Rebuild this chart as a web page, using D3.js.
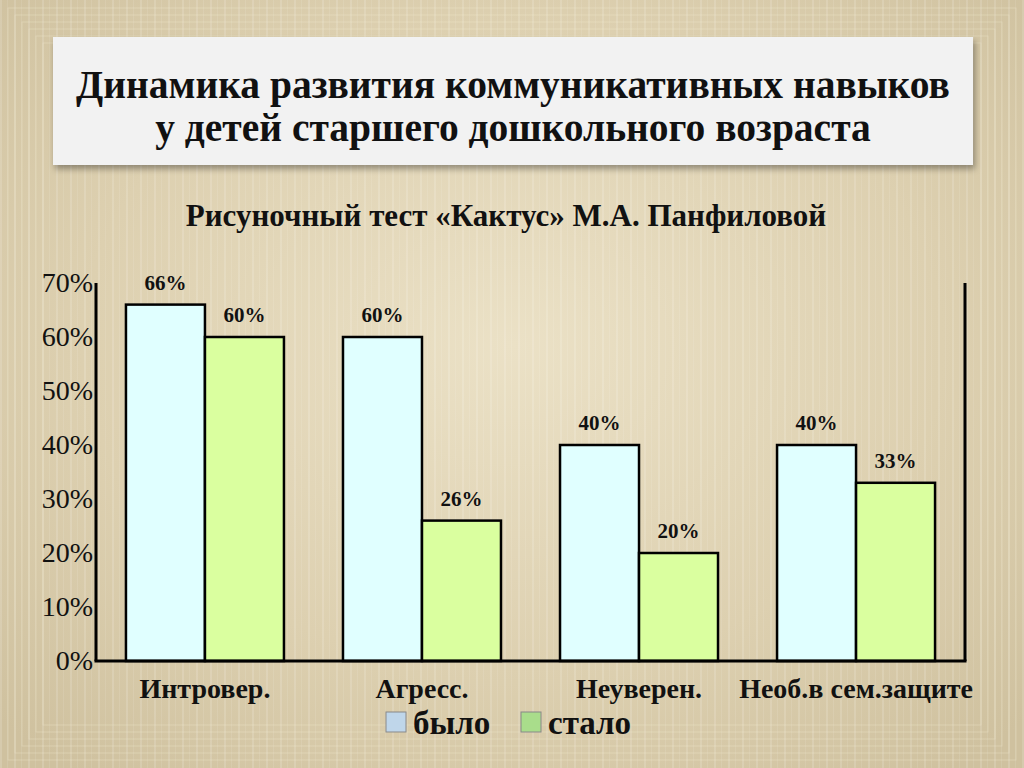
<!DOCTYPE html>
<html>
<head>
<meta charset="utf-8">
<script src="https://cdn.jsdelivr.net/npm/d3@7"></script>
<style>
  html, body { margin: 0; padding: 0; }
  svg { display: block; }
</style>
</head>
<body>
<svg id="chart" width="1024" height="768"></svg>
<script>
// Chart data.
const categories = [ 'Интровер.', 'Агресс.', 'Неуверен.', 'Необ.в сем.защите' ];
const seriesNames = [ 'было', 'стало' ];
const wasValues  = [ 66, 60, 40, 40 ];
const nowValues  = [ 60, 26, 20, 33 ];
const yTicks     = [ 0, 10, 20, 30, 40, 50, 60, 70 ];

const titleLines = [ 'Динамика развития коммуникативных навыков', 'у детей старшего дошкольного возраста' ];
const subtitle   = 'Рисуночный тест «Кактус» М.А. Панфиловой';

const W = 1024, H = 768;
const plot = { left: 96, right: 965, top: 283, bottom: 661 };
const serif = '"Liberation Serif", "DejaVu Serif", serif';

const svg = d3.select( '#chart' );
const defs = svg.append( 'defs' );

// Background: tan gradient with faint vertical stripes.
const bg = defs.append( 'radialGradient' ).attr( 'id', 'bg' )
  .attr( 'cx', '50%' ).attr( 'cy', '45%' ).attr( 'r', '70%' );
bg.append( 'stop' ).attr( 'offset', '0%'   ).attr( 'stop-color', '#ebe1c6' );
bg.append( 'stop' ).attr( 'offset', '60%'  ).attr( 'stop-color', '#ddd0b0' );
bg.append( 'stop' ).attr( 'offset', '100%' ).attr( 'stop-color', '#cfc19f' );

const stripes = defs.append( 'pattern' ).attr( 'id', 'stripes' )
  .attr( 'width', 14 ).attr( 'height', 10 ).attr( 'patternUnits', 'userSpaceOnUse' );
stripes.append( 'rect' ).attr( 'x', 0 ).attr( 'width', 2 ).attr( 'height', 10 ).attr( 'fill', '#fff' ).attr( 'opacity', 0.14 );
stripes.append( 'rect' ).attr( 'x', 7 ).attr( 'width', 1 ).attr( 'height', 10 ).attr( 'fill', '#fff' ).attr( 'opacity', 0.09 );

const shadow = defs.append( 'filter' ).attr( 'id', 'shadow' )
  .attr( 'x', '-5%' ).attr( 'y', '-10%' ).attr( 'width', '110%' ).attr( 'height', '130%' );
shadow.append( 'feDropShadow' ).attr( 'dx', 2 ).attr( 'dy', 4 ).attr( 'stdDeviation', 3 )
  .attr( 'flood-color', '#000' ).attr( 'flood-opacity', 0.35 );

svg.append( 'rect' ).attr( 'width', W ).attr( 'height', H ).attr( 'fill', 'url(#bg)' );
svg.append( 'rect' ).attr( 'width', W ).attr( 'height', H ).attr( 'fill', 'url(#stripes)' );

// Nested faint frames around the slide.
d3.range( 6 ).forEach( i => {
  svg.append( 'rect' )
    .attr( 'x', 8 + i * 7 ).attr( 'y', 8 + i * 7 )
    .attr( 'width', W - 2 * ( 8 + i * 7 ) ).attr( 'height', H - 2 * ( 8 + i * 7 ) )
    .attr( 'fill', 'none' ).attr( 'stroke', '#f3ead2' ).attr( 'stroke-opacity', 0.35 ).attr( 'stroke-width', 1 );
} );

// Title box.
svg.append( 'rect' )
  .attr( 'x', 53 ).attr( 'y', 37 ).attr( 'width', 920 ).attr( 'height', 128 )
  .attr( 'fill', '#f2f2f2' ).attr( 'filter', 'url(#shadow)' );

svg.append( 'g' ).selectAll( 'text' )
  .data( titleLines )
  .join( 'text' )
    .attr( 'x', 513 ).attr( 'y', ( d, i ) => 98 + i * 43 )
    .attr( 'text-anchor', 'middle' )
    .attr( 'font-family', serif ).attr( 'font-weight', 'bold' ).attr( 'font-size', 39.5 )
    .attr( 'fill', '#111' )
    .text( d => d );

svg.append( 'text' )
  .attr( 'x', 506 ).attr( 'y', 226 )
  .attr( 'text-anchor', 'middle' )
  .attr( 'font-family', serif ).attr( 'font-weight', 'bold' ).attr( 'font-size', 31 )
  .attr( 'fill', '#111' )
  .text( subtitle );

// Scales.
const x0 = d3.scaleBand( )
  .domain( categories )
  .range( [ plot.left, plot.right ] )
  .paddingInner( 0.272 )
  .paddingOuter( 0.138 );

const x1 = d3.scaleBand( )
  .domain( seriesNames )
  .range( [ 0, x0.bandwidth( ) ] );

const y = d3.scaleLinear( )
  .domain( [ 0, 70 ] )
  .range( [ plot.bottom, plot.top ] );

const colors = d3.scaleOrdinal( ).domain( seriesNames ).range( [ '#e0ffff', '#daff9f' ] );
const legendColors = d3.scaleOrdinal( ).domain( seriesNames ).range( [ '#bfd6ea', '#a9dd8b' ] );

const rows = categories.map( ( c, i ) => ( { category: c, values: [
  { series: 'было',  value: wasValues[i] },
  { series: 'стало', value: nowValues[i] }
] } ) );

// Bars.
const groups = svg.append( 'g' ).selectAll( 'g' )
  .data( rows )
  .join( 'g' )
    .attr( 'transform', d => `translate(${x0( d.category )},0)` );

groups.selectAll( 'rect' )
  .data( d => d.values )
  .join( 'rect' )
    .attr( 'x', d => x1( d.series ) )
    .attr( 'y', d => y( d.value ) )
    .attr( 'width', x1.bandwidth( ) )
    .attr( 'height', d => y( 0 ) - y( d.value ) )
    .attr( 'fill', d => colors( d.series ) )
    .attr( 'stroke', '#000' ).attr( 'stroke-width', 2.5 );

groups.selectAll( 'text' )
  .data( d => d.values )
  .join( 'text' )
    .attr( 'x', d => x1( d.series ) + x1.bandwidth( ) / 2 )
    .attr( 'y', d => y( d.value ) - 15 )
    .attr( 'text-anchor', 'middle' )
    .attr( 'font-family', serif ).attr( 'font-weight', 'bold' ).attr( 'font-size', 21 )
    .attr( 'fill', '#111' )
    .text( d => d.value + '%' );

// Axes frame.
const axis = svg.append( 'g' ).attr( 'stroke', '#000' ).attr( 'stroke-width', 3 );
axis.append( 'line' ).attr( 'x1', plot.left ).attr( 'x2', plot.left ).attr( 'y1', plot.top ).attr( 'y2', plot.bottom );
axis.append( 'line' ).attr( 'x1', plot.right ).attr( 'x2', plot.right ).attr( 'y1', plot.top ).attr( 'y2', plot.bottom );
axis.append( 'line' ).attr( 'x1', plot.left - 1.5 ).attr( 'x2', plot.right + 1.5 ).attr( 'y1', plot.bottom ).attr( 'y2', plot.bottom );

// Y tick labels.
svg.append( 'g' ).selectAll( 'text' )
  .data( yTicks )
  .join( 'text' )
    .attr( 'x', 93 ).attr( 'y', d => y( d ) + 9 )
    .attr( 'text-anchor', 'end' )
    .attr( 'font-family', serif ).attr( 'font-size', 28 )
    .attr( 'fill', '#111' )
    .text( d => d + '%' );

// Category labels.
svg.append( 'g' ).selectAll( 'text' )
  .data( categories )
  .join( 'text' )
    .attr( 'x', d => x0( d ) + x0.bandwidth( ) / 2 )
    .attr( 'y', 698 )
    .attr( 'text-anchor', 'middle' )
    .attr( 'font-family', serif ).attr( 'font-weight', 'bold' ).attr( 'font-size', 28 )
    .attr( 'fill', '#111' )
    .text( d => d );

// Legend.
const legendX = [ 386, 521 ];
const legend = svg.append( 'g' ).selectAll( 'g' )
  .data( seriesNames )
  .join( 'g' )
    .attr( 'transform', ( d, i ) => `translate(${legendX[i]},712)` );

legend.append( 'rect' )
  .attr( 'width', 20 ).attr( 'height', 20 )
  .attr( 'fill', d => legendColors( d ) )
  .attr( 'stroke', '#888' ).attr( 'stroke-width', 1 );

legend.append( 'text' )
  .attr( 'x', 27 ).attr( 'y', 22 )
  .attr( 'font-family', serif ).attr( 'font-weight', 'bold' ).attr( 'font-size', 33 )
  .attr( 'fill', '#111' )
  .text( d => d );
</script>
</body>
</html>
